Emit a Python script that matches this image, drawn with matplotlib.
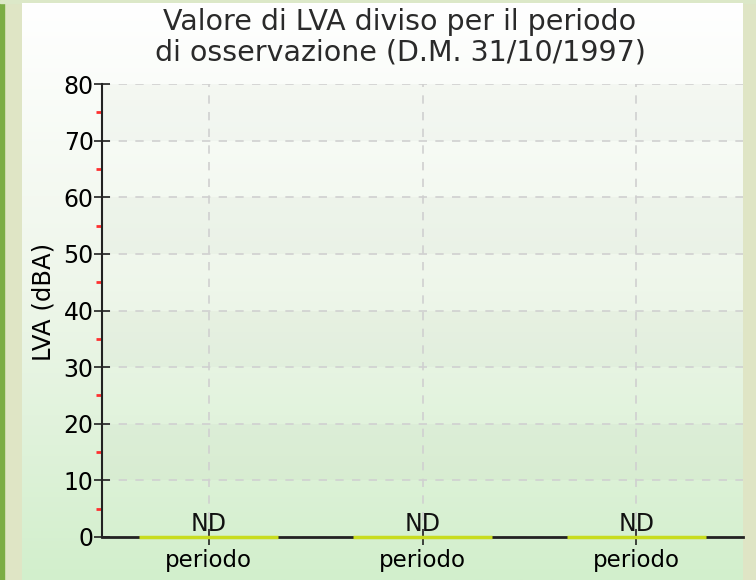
import numpy as np
import matplotlib.pyplot as plt
from matplotlib.colors import LinearSegmentedColormap

# Data
categories = ["periodo", "periodo", "periodo"]
values = [0, 0, 0]
value_labels = ["ND", "ND", "ND"]
y_ticks = [0, 10, 20, 30, 40, 50, 60, 70, 80]

W, H = 756, 580
fig = plt.figure(figsize=(W / 100, H / 100), dpi=100)
fig.patch.set_facecolor("#dfe5c5")

# outer frame: dark green strip on the left, light top band
bg = fig.add_axes([0, 0, 1, 1], zorder=-10)
bg.set_xlim(0, W)
bg.set_ylim(H, 0)
bg.axis("off")
bg.axvspan(0, 4, color="#7cad45")
bg.axhspan(0, 3, color="#dce8c8")

# panel with vertical gradient
cmap = LinearSegmentedColormap.from_list("pan", ["#ffffff", "#eef6ea", "#d2efcc"])
grad = np.linspace(0, 1, 256).reshape(-1, 1)
bg.imshow(grad, cmap=cmap, aspect="auto", extent=[22, 743, H, 3], zorder=1)

# plot area in pixel coordinates: x 102..743, y 84..537
x0, x1, y0, y1 = 102, 743, 84, 537
ax = fig.add_axes([x0 / W, 1 - y1 / H, (x1 - x0) / W, (y1 - y0) / H])
ax.patch.set_alpha(0)

x = np.arange(len(categories))
ax.set_xlim(-0.5, len(categories) - 0.5)
ax.set_ylim(0, 80)

# subtle alternating bands
for i in range(0, 80, 20):
    ax.axhspan(i + 10, i + 20, color="#9aa890", alpha=0.06, lw=0, zorder=0)

ax.bar(x, values, width=0.65, color="#c8dc1e", edgecolor="#c8dc1e", lw=2.5,
       zorder=6, clip_on=False)
for xi, v, lab in zip(x, values, value_labels):
    ax.text(xi, v + 0.2, lab, ha="center", va="bottom", fontsize=17,
            color="#111111", zorder=7)

ax.set_yticks(y_ticks)
ax.set_yticks(np.arange(5, 80, 10), minor=True)
ax.set_xticks(x)
ax.set_xticklabels(categories, fontsize=16.5)
ax.tick_params(axis="y", which="major", direction="inout", length=12, width=1.2,
               labelsize=17, pad=0, color="#222222")
ax.tick_params(axis="y", which="minor", direction="out", length=4, width=2,
               color="#ff3030")
ax.tick_params(axis="x", direction="inout", length=12, width=1.2, pad=3,
               color="#222222")

ax.grid(True, which="major", ls=(0, (5, 5)), color="#d0d0d0", lw=1.2, zorder=1)
ax.set_axisbelow(True)

for s in ["top", "right"]:
    ax.spines[s].set_visible(False)
ax.spines["left"].set_linewidth(1.5)
ax.spines["bottom"].set_linewidth(2)
ax.spines["left"].set_color("#222222")
ax.spines["bottom"].set_color("#222222")
ax.spines["left"].set_zorder(5)
ax.spines["bottom"].set_zorder(5)

ax.set_ylabel("LVA (dBA)", fontsize=17.5)
ax.yaxis.set_label_coords(-(x0 - 55) / (x1 - x0), 0.52)

fig.text(400 / W, 1 - 22 / H, "Valore di LVA diviso per il periodo", ha="center",
         va="center", fontsize=20.5, color="#2a2a2a")
fig.text(400 / W, 1 - 52 / H, "di osservazione (D.M. 31/10/1997)", ha="center",
         va="center", fontsize=20.5, color="#2a2a2a")

fig.savefig("out.png", dpi=100)
